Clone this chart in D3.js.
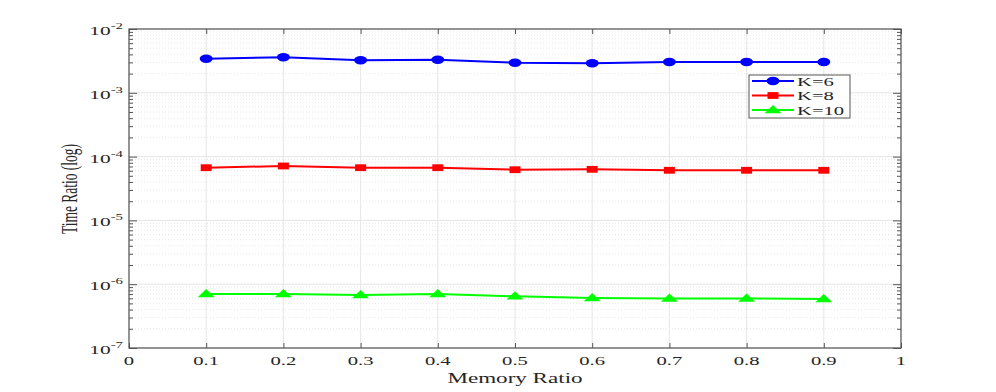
<!DOCTYPE html>
<html>
<head>
<meta charset="utf-8">
<script src="https://cdn.jsdelivr.net/npm/d3@7"></script>
<style>
  body { margin: 0; background: #fff; }
  text { font-family: "Liberation Serif", "Times New Roman", serif; fill: #262626; }
</style>
</head>
<body>
<svg id="chart"></svg>
<script>
// data
var memRatio = [0.1, 0.2, 0.3, 0.4, 0.5, 0.6, 0.7, 0.8, 0.9];
var k6  = [3.42e-3, 3.60e-3, 3.23e-3, 3.30e-3, 2.96e-3, 2.90e-3, 3.04e-3, 3.04e-3, 3.04e-3];
var k8  = [6.70e-5, 7.13e-5, 6.70e-5, 6.70e-5, 6.23e-5, 6.32e-5, 6.10e-5, 6.10e-5, 6.10e-5];
var k10 = [7.02e-7, 7.02e-7, 6.78e-7, 7.02e-7, 6.46e-7, 6.08e-7, 5.97e-7, 5.97e-7, 5.86e-7];
var seriesNames = ["K=6", "K=8", "K=10"];
var xTicks = [0, 0.1, 0.2, 0.3, 0.4, 0.5, 0.6, 0.7, 0.8, 0.9, 1];
var yExps = [-7, -6, -5, -4, -3, -2];

var W = 996, H = 392, SX = 1.65;
var pLeft = 129, pRight = 901, pTop = 29, pBottom = 348;

var svg = d3.select("#chart").attr("width", W).attr("height", H);

var x = d3.scaleLinear().domain([0, 1]).range([pLeft, pRight]);
var y = d3.scaleLog().domain([1e-7, 1e-2]).range([pBottom, pTop]);

// minor values 2..9 per decade
var minor = [];
yExps.slice(0, -1).forEach(function (e) {
  for (var m = 2; m <= 9; m++) minor.push(m * Math.pow(10, e));
});

// grid
var grid = svg.append("g");
grid.selectAll(".ming").data(minor).enter().append("line")
  .attr("x1", pLeft).attr("x2", pRight)
  .attr("y1", function (d) { return y(d); }).attr("y2", function (d) { return y(d); })
  .style("stroke", "#e8e8e8").style("stroke-dasharray", "1,2").style("stroke-width", 1);
grid.selectAll(".majy").data(yExps).enter().append("line")
  .attr("x1", pLeft).attr("x2", pRight)
  .attr("y1", function (d) { return y(Math.pow(10, d)); }).attr("y2", function (d) { return y(Math.pow(10, d)); })
  .style("stroke", "#e6e6e6").style("stroke-width", 1);
grid.selectAll(".majx").data(xTicks).enter().append("line")
  .attr("y1", pTop).attr("y2", pBottom)
  .attr("x1", function (d) { return x(d); }).attr("x2", function (d) { return x(d); })
  .style("stroke", "#e6e6e6").style("stroke-width", 1);

// axes box and ticks via d3 axes
var axCol = "#555";
function styleAxis(g) {
  g.select(".domain").remove();
  g.selectAll("line").style("stroke", axCol);
  g.selectAll("text").remove();
}
var majY = yExps.map(function (e) { return Math.pow(10, e); });
svg.append("g").attr("transform", "translate(0," + pBottom + ")")
  .call(d3.axisTop(x).tickValues(xTicks).tickSize(5)).call(styleAxis);
svg.append("g").attr("transform", "translate(0," + pTop + ")")
  .call(d3.axisBottom(x).tickValues(xTicks).tickSize(5)).call(styleAxis);
svg.append("g").attr("transform", "translate(" + pLeft + ",0)")
  .call(d3.axisRight(y).tickValues(majY).tickSize(8)).call(styleAxis);
svg.append("g").attr("transform", "translate(" + pRight + ",0)")
  .call(d3.axisLeft(y).tickValues(majY).tickSize(8)).call(styleAxis);
svg.append("g").attr("transform", "translate(" + pLeft + ",0)")
  .call(d3.axisRight(y).tickValues(minor).tickSize(4)).call(styleAxis);
svg.append("g").attr("transform", "translate(" + pRight + ",0)")
  .call(d3.axisLeft(y).tickValues(minor).tickSize(4)).call(styleAxis);

svg.append("rect").attr("x", pLeft).attr("y", pTop)
  .attr("width", pRight - pLeft).attr("height", pBottom - pTop)
  .attr("fill", "none").style("stroke", axCol).style("stroke-width", 1.2);

// tick labels
svg.selectAll(".xlab").data(xTicks).enter().append("text")
  .attr("transform", function (d) { return "translate(" + x(d) + "," + (pBottom + 17) + ") scale(" + SX + ",1)"; })
  .attr("text-anchor", "middle").style("font-size", "12.5px")
  .text(function (d) { return d3.format("~g")(d); });

var ylab = svg.selectAll(".ylab").data(yExps).enter().append("text")
  .attr("transform", function (d) { return "translate(" + 123 + "," + (y(Math.pow(10, d)) + 6) + ") scale(" + SX + ",1)"; })
  .attr("text-anchor", "end").style("font-size", "13px");
ylab.append("tspan").text("10");
ylab.append("tspan").attr("dy", -6).style("font-size", "9px").text(function (d) { return "-" + (-d); });

// axis titles
svg.append("text")
  .attr("transform", "translate(" + ((pLeft + pRight) / 2) + ",383) scale(" + SX + ",1)")
  .attr("text-anchor", "middle").style("font-size", "14px").text("Memory Ratio");
svg.append("text")
  .attr("transform", "translate(77,189) scale(" + SX + ",1) rotate(-90)")
  .attr("text-anchor", "middle").style("font-size", "13.5px").text("Time Ratio (log)");

// series
var series = [
  { name: seriesNames[0], vals: k6, color: "#0000ff", shape: "circle" },
  { name: seriesNames[1], vals: k8, color: "#ff0000", shape: "square" },
  { name: seriesNames[2], vals: k10, color: "#00ff00", shape: "triangle" }
];

function drawMarker(g, shape, color) {
  if (shape === "circle") {
    g.append("ellipse").attr("rx", 6.5).attr("ry", 4.2).attr("fill", color);
  } else if (shape === "square") {
    g.append("rect").attr("x", -5.5).attr("y", -3.4).attr("width", 11).attr("height", 6.8).attr("fill", color);
  } else {
    g.append("path").attr("d", "M0,-5 L8.5,3.2 L-8.5,3.2 Z").attr("fill", color);
  }
}

var line = d3.line().x(function (d) { return x(d[0]); }).y(function (d) { return y(d[1]); });

series.forEach(function (s) {
  var pts = memRatio.map(function (m, i) { return [m, s.vals[i]]; });
  svg.append("path").attr("d", line(pts)).attr("fill", "none")
    .style("stroke", s.color).style("stroke-width", 2);
  svg.selectAll(".pt-" + s.shape).data(pts).enter().append("g")
    .attr("transform", function (d) { return "translate(" + x(d[0]) + "," + y(d[1]) + ")"; })
    .each(function () { drawMarker(d3.select(this), s.shape, s.color); });
});

// legend
var lg = svg.append("g");
lg.append("rect").attr("x", 749).attr("y", 75).attr("width", 101).attr("height", 43)
  .attr("fill", "#fff").style("stroke", axCol).style("stroke-width", 1);
series.forEach(function (s, i) {
  var ly = 81 + i * 14.5;
  lg.append("line").attr("x1", 752).attr("x2", 794).attr("y1", ly).attr("y2", ly)
    .style("stroke", s.color).style("stroke-width", 2);
  var mg = lg.append("g").attr("transform", "translate(773," + ly + ")");
  drawMarker(mg, s.shape, s.color);
  lg.append("text").attr("transform", "translate(797," + (ly + 4.5) + ") scale(" + SX + ",1)")
    .style("font-size", "12.5px").text(s.name);
});
</script>
</body>
</html>
